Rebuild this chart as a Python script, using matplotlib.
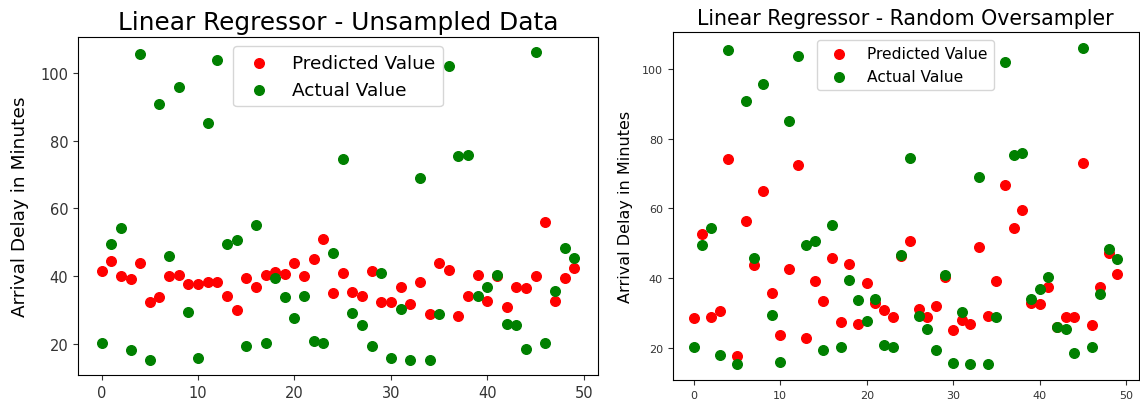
import matplotlib
matplotlib.use("Agg")
import matplotlib.pyplot as plt
import numpy as np

# predicted vs actual arrival delay for the first 50 test rows
idx = np.arange(50)

actual = [20.4, 49.6, 54.3, 18.1, 105.5, 15.4, 90.8, 45.9, 95.8, 29.5,
          15.9, 85.2, 103.7, 49.5, 50.8, 19.5, 55.2, 20.4, 39.5, 33.8,
          27.8, 34.1, 20.9, 20.4, 46.8, 74.5, 29.1, 25.5, 19.5, 40.9,
          15.8, 30.4, 15.4, 68.9, 15.4, 29.0, 101.9, 75.4, 75.8, 34.1,
          36.8, 40.3, 25.9, 25.5, 18.5, 106.0, 20.4, 35.5, 48.3, 45.5]

pred_unsampled = [41.4, 44.4, 40.1, 39.2, 43.8, 32.3, 33.8, 40.1, 40.4, 37.7,
                  37.7, 38.2, 38.2, 34.2, 30.0, 39.6, 36.9, 40.4, 41.1, 40.8,
                  43.8, 40.1, 45.0, 50.9, 35.0, 40.9, 35.4, 34.2, 41.4, 32.3,
                  32.3, 36.9, 31.8, 38.2, 29.0, 43.8, 41.9, 28.3, 34.2, 40.4,
                  32.8, 40.0, 31.0, 36.9, 36.5, 40.1, 56.0, 32.8, 39.4, 42.4]

pred_oversampled = [28.7, 52.6, 29.0, 30.7, 74.1, 17.8, 56.3, 43.9, 65.0, 35.9,
                    23.7, 42.6, 72.5, 23.0, 39.1, 33.4, 45.8, 27.5, 44.2, 27.0,
                    38.6, 33.0, 31.0, 29.0, 46.4, 50.7, 31.1, 29.0, 32.1, 40.4,
                    25.1, 28.0, 26.9, 49.0, 29.2, 39.1, 66.6, 54.5, 59.6, 33.0,
                    32.6, 37.5, 26.0, 29.0, 29.0, 73.0, 26.6, 37.6, 47.1, 41.3]


def scatter_panel(ax, pred, title, title_size, label_size, legend_size, tick_size, pad):
    ax.scatter(idx, pred, color='red', s=48, label='Predicted Value')
    ax.scatter(idx, actual, color='green', s=48, label='Actual Value')
    ax.set_title(title, fontsize=title_size)
    ax.set_ylabel('Arrival Delay in Minutes', fontsize=label_size, labelpad=pad)
    ax.legend(loc='upper center', fontsize=legend_size)
    ax.tick_params(labelsize=tick_size, colors='#333333')
    ax.set_yticks([20, 40, 60, 80, 100])
    ax.set_xticks([0, 10, 20, 30, 40, 50])


fig = plt.figure(figsize=(11.4, 4.1), dpi=100)
ax1 = fig.add_axes([0.0684, 0.083, 0.456, 0.824])
ax2 = fig.add_axes([0.590, 0.071, 0.4088, 0.848])

scatter_panel(ax1, pred_unsampled, 'Linear Regressor - Unsampled Data', 17.8, 13.3, 13.3, 10.5, 8)
scatter_panel(ax2, pred_oversampled, 'Linear Regressor - Random Oversampler', 14.8, 11.5, 11.2, 8, 6.5)

fig.savefig('out.png', dpi=100)
